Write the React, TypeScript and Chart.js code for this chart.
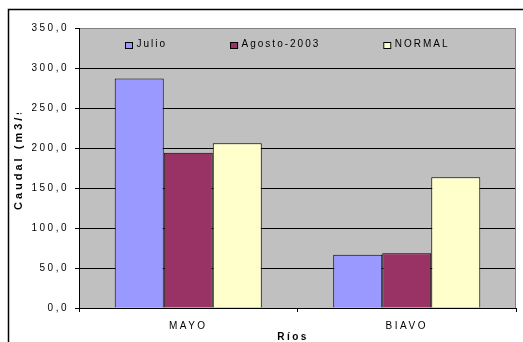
import React, { useEffect, useRef } from "react";
import { Chart, registerables } from "chart.js";

Chart.register(...registerables);

const categories = ["MAYO", "BIAVO"];
const seriesNames = ["Julio", "Agosto-2003", "NORMAL"];
const julio = [287, 66.5];
const agosto = [194, 68.5];
const normal = [206, 163.5];
const seriesColors = ["#9999FF", "#993366", "#FFFFCC"];
const yMin = 0;
const yMax = 350;
const yStep = 50;
const yTitle = "Caudal (m3/s)";
const xTitle = "Ríos";

const FONT = '"Liberation Sans", Arial, sans-serif';

const spacingPlugin = {
  id: "spacing",
  beforeLayout(chart: any) {
    chart.ctx.letterSpacing = "2.5px";
  },
  beforeDraw(chart: any) {
    const { ctx, chartArea } = chart;
    ctx.letterSpacing = "2.5px";
    ctx.save();
    ctx.fillStyle = "#C0C0C0";
    ctx.fillRect(chartArea.left, chartArea.top, chartArea.right - chartArea.left, chartArea.bottom - chartArea.top);
    ctx.restore();
  },
  beforeDatasetsDraw(chart: any) {
    const { ctx, chartArea } = chart;
    ctx.save();
    ctx.strokeStyle = "#808080";
    ctx.lineWidth = 1;
    ctx.beginPath();
    const x = Math.round(chartArea.right) - 0.5;
    ctx.moveTo(x, chartArea.top);
    ctx.lineTo(x, chartArea.bottom);
    ctx.stroke();
    ctx.restore();
  },
  afterDraw(chart: any) {
    const { ctx, chartArea } = chart;
    // legend inside plot area
    ctx.save();
    ctx.font = `10px ${FONT}`;
    ctx.letterSpacing = "2px";
    ctx.textBaseline = "middle";
    ctx.textAlign = "left";
    let x = chartArea.left + 46;
    chart.data.datasets.forEach((ds: any) => {
      ctx.fillStyle = ds.backgroundColor;
      ctx.fillRect(x, 42, 8, 7);
      ctx.strokeStyle = "#000";
      ctx.lineWidth = 1;
      ctx.strokeRect(x + 0.5, 42.5, 7, 6);
      ctx.fillStyle = "#000";
      const tx = x + 11.5;
      ctx.fillText(ds.label, tx, 44);
      x = tx + ctx.measureText(ds.label).width + 63;
    });
    ctx.restore();

    // y axis title (clipped at top like the original)
    ctx.save();
    ctx.beginPath();
    ctx.rect(0, 113, 60, 342 - 113);
    ctx.clip();
    ctx.translate(19, 210);
    ctx.rotate(-Math.PI / 2);
    ctx.font = `bold 11px ${FONT}`;
    ctx.letterSpacing = "3px";
    ctx.textAlign = "left";
    ctx.textBaseline = "middle";
    ctx.fillStyle = "#000";
    ctx.fillText(yTitle, 0, 0);
    ctx.restore();

    // x axis title
    ctx.save();
    ctx.font = `bold 10px ${FONT}`;
    ctx.letterSpacing = "2.5px";
    ctx.textAlign = "center";
    ctx.textBaseline = "middle";
    ctx.fillStyle = "#000";
    ctx.fillText(xTitle, 293, 337);
    ctx.restore();

    // outer frame
    ctx.save();
    ctx.strokeStyle = "#000";
    ctx.lineWidth = 1.5;
    ctx.beginPath();
    ctx.moveTo(523, 9.5);
    ctx.lineTo(8.5, 9.5);
    ctx.lineTo(8.5, 342);
    ctx.stroke();
    ctx.restore();
  },
};

export default function App() {
  const ref = useRef<HTMLCanvasElement | null>(null);
  useEffect(() => {
    if (!ref.current) return;
    const chart = new Chart(ref.current, {
      type: "bar",
      data: {
        labels: categories,
        datasets: [julio, agosto, normal].map((d, i) => ({
          label: seriesNames[i],
          data: d,
          backgroundColor: seriesColors[i],
          borderColor: "#000",
          borderWidth: 1,
          categoryPercentage: 0.673,
          barPercentage: 1,
        })),
      },
      options: {
        animation: false,
        responsive: false,
        devicePixelRatio: 1,
        layout: { padding: { left: 0, right: 7, top: 28, bottom: 0 } },
        plugins: { legend: { display: false }, tooltip: { enabled: false } },
        font: { family: FONT },
        scales: {
          x: {
            offset: true,
            grid: { display: true, drawOnChartArea: false, drawTicks: true, tickLength: 4, color: "#000", offset: true },
            border: { color: "#000", width: 1 },
            ticks: { color: "#000", font: { family: FONT, size: 10 }, padding: 8 },
            afterFit: (s: any) => { s.height = 34; },
          },
          y: {
            min: yMin,
            max: yMax,
            grid: {
              color: (c: any) => (c.tick && c.tick.value === yMax ? "#808080" : "#000"),
              tickColor: "#000",
              tickLength: 4,
              lineWidth: 1,
            },
            border: { color: "#000", width: 1 },
            ticks: {
              stepSize: yStep,
              color: "#000",
              font: { family: FONT, size: 10 },
              padding: 6,
              callback: (v: any) => Number(v).toFixed(1).replace(".", ","),
            },
            afterFit: (s: any) => { s.width = 79; },
          },
        },
      } as any,
      plugins: [spacingPlugin],
    });
    return () => chart.destroy();
  }, []);
  return (
    <div style={{ position: "absolute", left: 0, top: 0 }}>
      <canvas ref={ref} width={523} height={342} style={{ display: "block" }} />
    </div>
  );
}
